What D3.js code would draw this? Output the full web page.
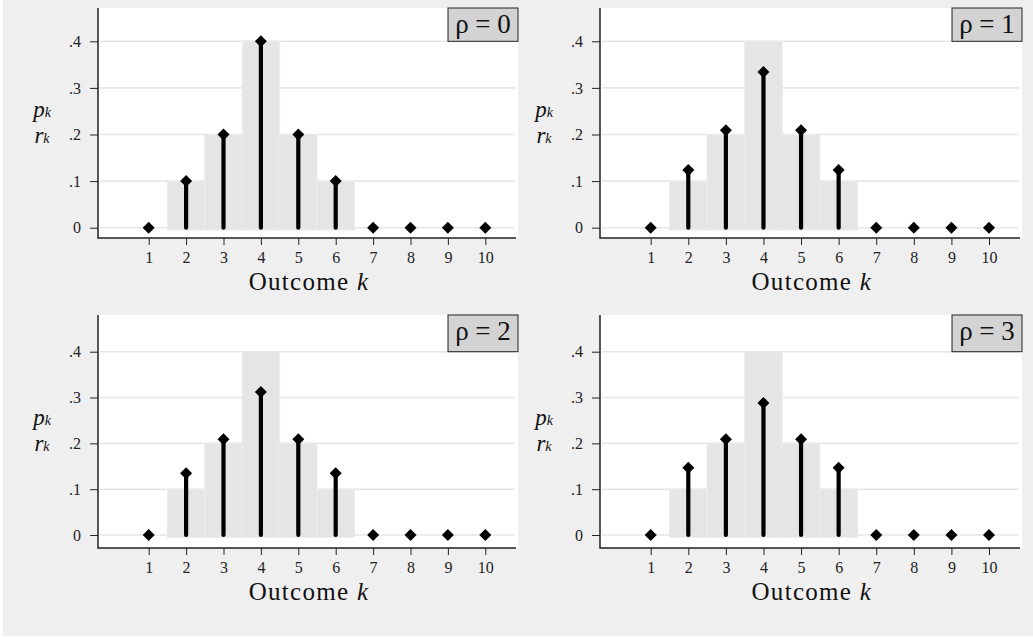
<!DOCTYPE html>
<html>
<head>
<meta charset="utf-8">
<script src="https://cdn.jsdelivr.net/npm/d3@7"></script>
<style>
  body { margin: 0; background: #fff; }
  svg { display: block; }
  svg text { font-family: 'Liberation Serif', 'DejaVu Serif', serif; }
  .tick text { font-size: 16px; fill: #222; }
</style>
</head>
<body>
<script>
// data
var outcomes = [1, 2, 3, 4, 5, 6, 7, 8, 9, 10];
var pk = [0, 0.1, 0.2, 0.4, 0.2, 0.1, 0, 0, 0, 0];
var rk0 = [0, 0.1, 0.2, 0.4, 0.2, 0.1, 0, 0, 0, 0];
var rk1 = [0, 0.124, 0.209, 0.334, 0.209, 0.124, 0, 0, 0, 0];
var rk2 = [0, 0.135, 0.209, 0.312, 0.209, 0.135, 0, 0, 0, 0];
var rk3 = [0, 0.147, 0.209, 0.288, 0.209, 0.147, 0, 0, 0, 0];
var rhoLabels = ["ρ = 0", "ρ = 1", "ρ = 2", "ρ = 3"];
var yTicks = [0, 0.1, 0.2, 0.3, 0.4];
var yTickLabels = ["0", ".1", ".2", ".3", ".4"];
var xTitle = "Outcome ";

var series = [rk0, rk1, rk2, rk3];

// panel geometry
var cols = [
  {left: 98, right: 518, x1: 148.7, x10: 485.3},
  {left: 600, right: 1022, x1: 650.7, x10: 989}
];
var rows = [
  {top: 8, bottom: 238, y0: 227.7, y4: 41.3},
  {top: 315, bottom: 548, y0: 535, y4: 351.7}
];

var svg = d3.select("body").append("svg")
  .attr("width", 1033)
  .attr("height", 637);

svg.append("rect")
  .attr("x", 3).attr("y", 0)
  .attr("width", 1030).attr("height", 636)
  .attr("fill", "#efefef");

series.forEach(function(rk, i) {
  var c = cols[i % 2], r = rows[Math.floor(i / 2)];

  var x = d3.scaleLinear().domain([1, 10]).range([c.x1, c.x10]);
  var y = d3.scaleLinear().domain([0, 0.4]).range([r.y0, r.y4]);

  var g = svg.append("g");

  // plot region
  g.append("rect")
    .attr("x", c.left).attr("y", r.top)
    .attr("width", c.right - c.left).attr("height", r.bottom - r.top)
    .attr("fill", "#fff");

  // gridlines
  g.selectAll(".grid").data(yTicks).enter().append("line")
    .attr("x1", c.left + 2).attr("x2", c.right - 3)
    .attr("y1", function(d) { return y(d); })
    .attr("y2", function(d) { return y(d); })
    .attr("stroke", "#e6e6e6")
    .attr("stroke-width", 1.6);

  // p_k bars
  var bars = outcomes.map(function(k, j) { return {k: k, v: pk[j]}; })
    .filter(function(d) { return d.v > 0; });
  g.selectAll(".bar").data(bars).enter().append("rect")
    .attr("x", function(d) { return x(d.k - 0.5); })
    .attr("width", function(d) { return x(d.k + 0.5) - x(d.k - 0.5); })
    .attr("y", function(d) { return y(d.v); })
    .attr("height", function(d) { return y(-0.005) - y(d.v); })
    .attr("fill", "#e5e5e5")
    .attr("stroke", "#ebebeb")
    .attr("stroke-width", 1);

  // r_k spikes
  var pts = outcomes.map(function(k, j) { return {k: k, v: rk[j]}; });
  g.selectAll(".spike").data(pts.filter(function(d) { return d.v > 0; }))
    .enter().append("line")
    .attr("x1", function(d) { return x(d.k); })
    .attr("x2", function(d) { return x(d.k); })
    .attr("y1", y(0))
    .attr("y2", function(d) { return y(d.v); })
    .attr("stroke", "#000")
    .attr("stroke-width", 4.2)
    .attr("stroke-linecap", "round");

  var diamond = d3.symbol().type(d3.symbolSquare).size(72);
  g.selectAll(".pt").data(pts).enter().append("path")
    .attr("d", diamond)
    .attr("transform", function(d) {
      return "translate(" + x(d.k) + "," + y(d.v) + ") rotate(45)";
    })
    .attr("fill", "#000");

  // axes
  var xa = g.append("g")
    .attr("transform", "translate(0," + r.bottom + ")")
    .call(d3.axisBottom(x).tickValues(outcomes).tickSize(7).tickPadding(7));
  xa.select(".domain").remove();
  xa.selectAll(".tick line").attr("stroke", "#222");
  xa.attr("font-family", null).attr("font-size", null);

  var ya = g.append("g")
    .attr("transform", "translate(" + c.left + ",0)")
    .call(d3.axisLeft(y).tickValues(yTicks)
      .tickFormat(function(d, j) { return yTickLabels[j]; })
      .tickSize(8).tickPadding(9));
  ya.select(".domain").remove();
  ya.selectAll(".tick line").attr("stroke", "#222");
  ya.attr("font-family", null).attr("font-size", null);

  g.append("path")
    .attr("d", "M" + c.left + "," + r.top + "V" + r.bottom + "H" + (c.right - 2))
    .attr("fill", "none")
    .attr("stroke", "#222")
    .attr("stroke-width", 1.5);

  // x title
  var xt = g.append("text")
    .attr("x", (c.x1 + c.x10) / 2 - 8)
    .attr("y", r.bottom + 52)
    .attr("text-anchor", "middle")
    .attr("font-size", 25)
    .attr("letter-spacing", 1.3)
    .attr("fill", "#111");
  xt.append("tspan").text(xTitle);
  xt.append("tspan").attr("font-style", "italic").text("k");

  // y title
  var ymid = (r.y0 + r.y4) / 2;
  var py = g.append("text")
    .attr("x", c.left - 56).attr("y", ymid - 18)
    .attr("text-anchor", "middle")
    .attr("font-style", "italic")
    .attr("font-size", 23)
    .attr("fill", "#111");
  py.append("tspan").text("p");
  py.append("tspan").attr("font-size", 14).text("k");
  var ry = g.append("text")
    .attr("x", c.left - 56).attr("y", ymid + 8)
    .attr("text-anchor", "middle")
    .attr("font-style", "italic")
    .attr("font-size", 23)
    .attr("fill", "#111");
  ry.append("tspan").text("r");
  ry.append("tspan").attr("font-size", 14).text("k");

  // rho label box
  g.append("rect")
    .attr("x", c.right - 70).attr("y", r.top)
    .attr("width", 70).attr("height", r.y4 - r.top)
    .attr("fill", "#d3d3d3")
    .attr("stroke", "#222")
    .attr("stroke-width", 1);
  g.append("text")
    .attr("x", c.right - 35).attr("y", r.top + 24.5)
    .attr("text-anchor", "middle")
    .attr("font-size", 27)
    .attr("fill", "#111")
    .text(rhoLabels[i]);
});
</script>
</body>
</html>
